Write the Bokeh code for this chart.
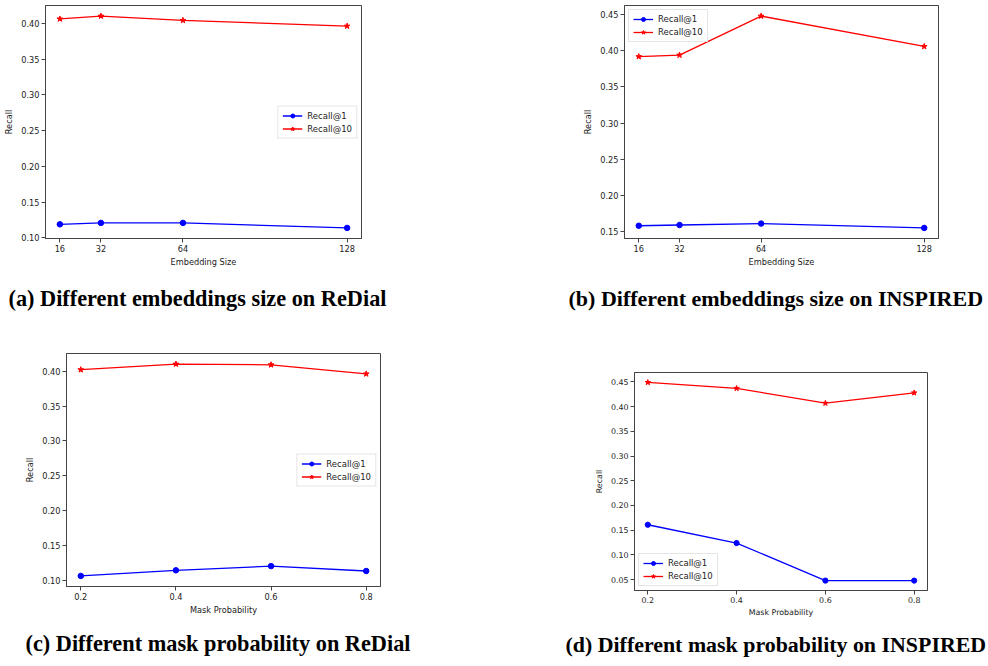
from bokeh.plotting import figure
from bokeh.models import Range1d, FixedTicker, PrintfTickFormatter, Title, Spacer
from bokeh.layouts import row, column
from bokeh.embed import file_html
from bokeh.resources import INLINE

# ---------------- data ----------------
emb_sizes = [16, 32, 64, 128]
mask_probs = [0.2, 0.4, 0.6, 0.8]

redial_emb_r1 = [0.119, 0.121, 0.121, 0.114]
redial_emb_r10 = [0.406, 0.410, 0.404, 0.396]

inspired_emb_r1 = [0.158, 0.159, 0.161, 0.155]
inspired_emb_r10 = [0.392, 0.394, 0.448, 0.406]

redial_mask_r1 = [0.107, 0.115, 0.121, 0.114]
redial_mask_r10 = [0.402, 0.410, 0.409, 0.396]

inspired_mask_r1 = [0.161, 0.124, 0.048, 0.048]
inspired_mask_r10 = [0.449, 0.437, 0.407, 0.428]

emb_ticks = [16, 32, 64, 128]
mask_ticks = [0.2, 0.4, 0.6, 0.8]
yticks_a = [0.10, 0.15, 0.20, 0.25, 0.30, 0.35, 0.40]
yticks_b = [0.15, 0.20, 0.25, 0.30, 0.35, 0.40, 0.45]
yticks_c = [0.10, 0.15, 0.20, 0.25, 0.30, 0.35, 0.40]
yticks_d = [0.05, 0.10, 0.15, 0.20, 0.25, 0.30, 0.35, 0.40, 0.45]

captions = [
    "(a) Different embeddings size on ReDial",
    "(b) Different embeddings size on INSPIRED",
    "(c) Different mask probability on ReDial",
    "(d) Different mask probability on INSPIRED",
]

SPINE = "#444444"
TXT = "#222222"


def pad_range(series):
    lo = min(min(s) for s in series)
    hi = max(max(s) for s in series)
    span = hi - lo
    return Range1d(lo - 0.05 * span, hi + 0.05 * span)


def make_panel(x, r1, r10, xticks, yticks, xfmt, xlabel, caption,
               W, H, mbl, mbr, mbt, mbb, legend_loc, cap_offset, cap_standoff,
               cap_fs, fs="8.2px", ms=5.5):
    p = figure(width=W, height=H, x_range=pad_range([x]),
               y_range=pad_range([r1, r10]), output_backend="svg",
               toolbar_location=None, title=None,
               min_border_left=mbl, min_border_right=mbr,
               min_border_top=mbt, min_border_bottom=mbb)
    p.background_fill_color = "white"
    p.border_fill_color = "white"
    p.outline_line_color = SPINE
    p.outline_line_width = 1
    p.outline_line_alpha = 1
    p.xgrid.visible = False
    p.ygrid.visible = False

    p.line(x, r1, line_color="#0000ff", line_width=1.3, legend_label="Recall@1")
    p.scatter(x, r1, marker="circle", size=ms, fill_color="#0000ff",
              line_color="#0000ff", legend_label="Recall@1")
    p.line(x, r10, line_color="#ff0000", line_width=1.3, legend_label="Recall@10")
    p.scatter(x, r10, marker="star", size=ms + 0.5, fill_color="#ff0000",
              line_color="#ff0000", legend_label="Recall@10")

    p.xaxis.ticker = FixedTicker(ticks=xticks)
    p.xaxis.formatter = PrintfTickFormatter(format=xfmt)
    p.yaxis.ticker = FixedTicker(ticks=yticks)
    p.yaxis.formatter = PrintfTickFormatter(format="%.2f")
    p.xaxis.axis_label = xlabel
    p.yaxis.axis_label = "Recall"
    for ax in (p.xaxis, p.yaxis):
        ax.minor_tick_line_color = None
        ax.major_tick_in = 0
        ax.major_tick_out = 4
        ax.major_label_standoff = 2
        ax.axis_line_color = SPINE
        ax.major_tick_line_color = SPINE
        ax.major_label_text_font = "DejaVu Sans"
        ax.major_label_text_font_size = fs
        ax.major_label_text_color = TXT
        ax.axis_label_text_font = "DejaVu Sans"
        ax.axis_label_text_font_size = fs
        ax.axis_label_text_font_style = "normal"
        ax.axis_label_text_color = TXT
    p.xaxis.axis_label_standoff = 2
    p.yaxis.axis_label_standoff = 4

    lg = p.legend[0]
    lg.location = legend_loc
    lg.margin = 4
    lg.padding = 4
    lg.spacing = 3
    lg.label_height = 10
    lg.glyph_height = 10
    lg.glyph_width = 20
    lg.label_standoff = 5
    lg.label_text_font = "DejaVu Sans"
    lg.label_text_font_size = "8.5px"
    lg.label_text_color = TXT
    lg.border_line_color = "#cccccc"
    lg.border_line_width = 1
    lg.background_fill_color = "white"
    lg.background_fill_alpha = 0.8

    cap = Title(text=caption, align="left", offset=cap_offset,
                standoff=cap_standoff, text_font="Liberation Serif",
                text_font_style="bold", text_font_size=cap_fs,
                text_color="black")
    p.add_layout(cap, "below")
    return p


fa = make_panel(emb_sizes, redial_emb_r1, redial_emb_r10, emb_ticks, yticks_a,
                "%d", "Embedding Size", captions[0],
                563, 333, 45, 202, 4, 95, "right", -37, 28, "22.3px")
fb = make_panel(emb_sizes, inspired_emb_r1, inspired_emb_r10, emb_ticks, yticks_b,
                "%d", "Embedding Size", captions[1],
                425, 333, 61, 50, 5, 95, "top_left", -56, 28, "22px")
fc = make_panel(mask_probs, redial_mask_r1, redial_mask_r10, mask_ticks, yticks_c,
                "%.1f", "Mask Probability", captions[2],
                563, 333, 66, 183, 20, 79, "right", -41, 22, "22.3px")
fd = make_panel(mask_probs, inspired_mask_r1, inspired_mask_r10, mask_ticks, yticks_d,
                "%.1f", "Mask Probability", captions[3],
                425, 314, 71, 61, 20, 76, "bottom_left", -69, 20, "21.9px",
                fs="7.9px", ms=5.2)

layout = column(row(fa, fb), row(fc, column(Spacer(width=425, height=19), fd)))

open("out.html", "w").write(file_html(layout, INLINE))
